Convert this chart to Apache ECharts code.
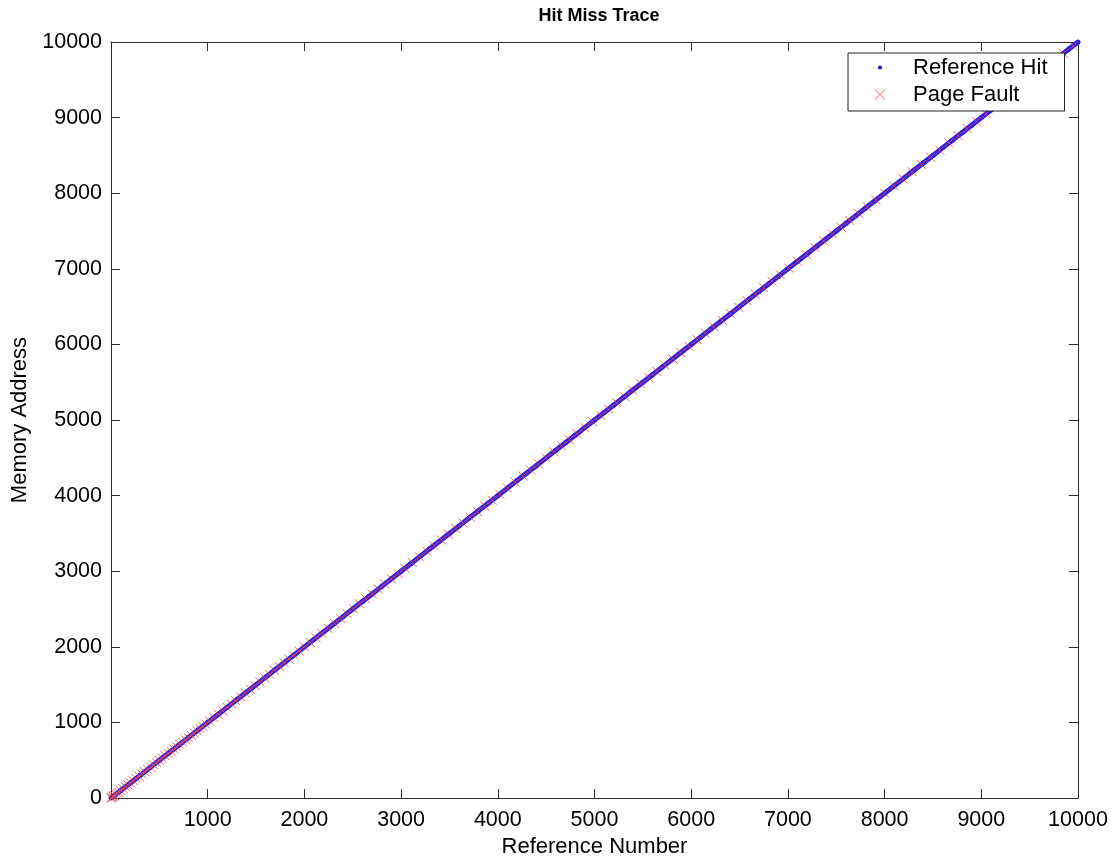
<!DOCTYPE html>
<html>
<head>
<meta charset="utf-8">
<script src="https://cdn.jsdelivr.net/npm/echarts@6/dist/echarts.min.js"></script>
<style>html,body{margin:0;padding:0;background:#fff;}#chart{width:1114px;height:863px;}</style>
</head>
<body>
<div id="chart"></div>
<script>
// ---- data ----
var titleText = 'Hit Miss Trace';
var xName = 'Reference Number';
var yName = 'Memory Address';
var seriesNames = ['Reference Hit', 'Page Fault'];
var xTicks = [0, 1000, 2000, 3000, 4000, 5000, 6000, 7000, 8000, 9000, 10000];
var yTicks = [0, 1000, 2000, 3000, 4000, 5000, 6000, 7000, 8000, 9000, 10000];

// reference hits: [reference number, memory address]
var referenceHits = [
[0,0],[100,100],[200,200],[300,300],[400,400],[500,500],[600,600],[700,700],[800,800],[900,900],
[1000,1000],[1100,1100],[1200,1200],[1300,1300],[1400,1400],[1500,1500],[1600,1600],[1700,1700],[1800,1800],[1900,1900],
[2000,2000],[2100,2100],[2200,2200],[2300,2300],[2400,2400],[2500,2500],[2600,2600],[2700,2700],[2800,2800],[2900,2900],
[3000,3000],[3100,3100],[3200,3200],[3300,3300],[3400,3400],[3500,3500],[3600,3600],[3700,3700],[3800,3800],[3900,3900],
[4000,4000],[4100,4100],[4200,4200],[4300,4300],[4400,4400],[4500,4500],[4600,4600],[4700,4700],[4800,4800],[4900,4900],
[5000,5000],[5100,5100],[5200,5200],[5300,5300],[5400,5400],[5500,5500],[5600,5600],[5700,5700],[5800,5800],[5900,5900],
[6000,6000],[6100,6100],[6200,6200],[6300,6300],[6400,6400],[6500,6500],[6600,6600],[6700,6700],[6800,6800],[6900,6900],
[7000,7000],[7100,7100],[7200,7200],[7300,7300],[7400,7400],[7500,7500],[7600,7600],[7700,7700],[7800,7800],[7900,7900],
[8000,8000],[8100,8100],[8200,8200],[8300,8300],[8400,8400],[8500,8500],[8600,8600],[8700,8700],[8800,8800],[8900,8900],
[9000,9000],[9100,9100],[9200,9200],[9300,9300],[9400,9400],[9500,9500],[9600,9600],[9700,9700],[9800,9800],[9900,9900],
[10000,10000]
];

// page faults: [reference number, memory address]
var pageFaults = [
[0,0],[8,8],[16,16],[25,25],[35,35],[50,50],[65,65],[80,80],[100,100],[125,125],[150,150],[175,175],
[200,200],[230,230],[260,260],[290,290],[320,320],[350,350],[380,380],[410,410],[440,440],[470,470],
[500,500],[530,530],[560,560],[590,590],[620,620],[650,650],[680,680],[710,710],[740,740],[770,770],
[800,800],[830,830],[860,860],[890,890],[920,920],[950,950],[980,980],
[1020,1020],[1065,1065],[1110,1110],[1155,1155],[1200,1200],[1245,1245],[1290,1290],[1340,1340],[1390,1390],[1440,1440],
[1490,1490],[1540,1540],[1590,1590],[1640,1640],[1690,1690],[1740,1740],[1790,1790],[1840,1840],[1890,1890],[1945,1945],[2000,2000],
[2060,2060],[2120,2120],[2180,2180],[2245,2245],[2310,2310],[2375,2375],[2440,2440],[2505,2505],[2570,2570],[2635,2635],
[2700,2700],[2765,2765],[2830,2830],[2900,2900],[2970,2970],
[3040,3040],[3115,3115],[3190,3190],[3265,3265],[3340,3340],[3415,3415],[3490,3490],[3565,3565],[3640,3640],[3715,3715],
[3790,3790],[3865,3865],[3940,3940],
[4020,4020],[4100,4100],[4180,4180],[4260,4260],[4340,4340],[4420,4420],[4500,4500],[4580,4580],[4660,4660],[4740,4740],
[4820,4820],[4900,4900],[4980,4980],
[5063,5063],[5146,5146],[5229,5229],[5312,5312],[5395,5395],[5478,5478],[5561,5561],[5644,5644],[5727,5727],[5810,5810],
[5893,5893],[5976,5976],
[6062,6062],[6148,6148],[6234,6234],[6320,6320],[6406,6406],[6492,6492],[6578,6578],[6664,6664],[6750,6750],[6836,6836],[6922,6922],
[7010,7010],[7100,7100],[7190,7190],[7280,7280],[7370,7370],[7460,7460],[7550,7550],[7640,7640],[7730,7730],[7820,7820],[7910,7910],[8000,8000],
[8095,8095],[8190,8190],[8285,8285],[8380,8380],[8475,8475],[8570,8570],[8665,8665],[8760,8760],[8855,8855],[8950,8950],
[9050,9050],[9150,9150],[9250,9250],[9350,9350],[9450,9450],[9550,9550],[9650,9650],[9750,9750],[9850,9850],[9950,9950]
];

// ---- style ----
var FONT = '"Liberation Sans", Arial, sans-serif';
var AX = '#2b2b2b';
var HIT_COLOR = '#2c1ee4';
var FAULT_COLOR = '#e2484e';

function svgIcon(inner) {
  return 'image://data:image/svg+xml;charset=utf-8,' + encodeURIComponent(
    "<svg xmlns='http://www.w3.org/2000/svg' width='56' height='14' viewBox='0 0 56 14'>" + inner + "</svg>");
}
var dotIcon = svgIcon("<circle cx='28' cy='7' r='2' fill='#0a0acc'/>");
var xIcon = svgIcon("<path d='M23,2L33,12M33,2L23,12' stroke='#e0484a' stroke-width='1' fill='none'/>");

var xMin = xTicks[0], xMax = xTicks[xTicks.length - 1];
var yMin = yTicks[0], yMax = yTicks[yTicks.length - 1];
var xInt = xTicks[1] - xTicks[0], yInt = yTicks[1] - yTicks[0];

function baseAxis(extra) {
  var a = {
    type: 'value',
    axisLine: { show: true, onZero: false, lineStyle: { color: AX, width: 1 } },
    axisTick: { show: true, inside: true, length: 9, lineStyle: { color: AX, width: 1 } },
    splitLine: { show: false },
    axisLabel: { show: false }
  };
  for (var k in extra) a[k] = extra[k];
  return a;
}

var chart = echarts.init(document.getElementById('chart'), null, { renderer: 'canvas' });
chart.setOption({
  animation: false,
  backgroundColor: '#ffffff',
  title: {
    text: titleText, left: 594, top: 2, textAlign: 'center',
    textStyle: { fontFamily: FONT, fontSize: 18, fontWeight: 'bold', color: '#000' }
  },
  grid: { left: 111, right: 36, top: 42, bottom: 59, containLabel: false },
  legend: {
    orient: 'vertical', left: 848, top: 53,
    data: [
      { name: seriesNames[0], icon: dotIcon },
      { name: seriesNames[1], icon: xIcon }
    ],
    itemWidth: 56, itemHeight: 14, itemGap: 0,
    padding: [1, 17, 3, 4],
    backgroundColor: '#fff', borderColor: '#222', borderWidth: 1,
    textStyle: { fontFamily: FONT, fontSize: 22, color: '#000', lineHeight: 27 },
    selectedMode: false
  },
  xAxis: [
    baseAxis({
      position: 'bottom', min: xMin, max: xMax, interval: xInt,
      name: xName, nameLocation: 'middle', nameGap: 36,
      nameTextStyle: { fontFamily: FONT, fontSize: 22, color: '#000' },
      axisLabel: { show: true, margin: 11, fontFamily: FONT, fontSize: 21.5, color: '#000',
        formatter: function (v) { return v === xMin ? '' : String(v); } }
    }),
    baseAxis({ position: 'top', min: xMin, max: xMax, interval: xInt })
  ],
  yAxis: [
    baseAxis({
      position: 'left', min: yMin, max: yMax, interval: yInt,
      name: yName, nameLocation: 'middle', nameGap: 76,
      nameTextStyle: { fontFamily: FONT, fontSize: 22, color: '#000' },
      axisLabel: { show: true, margin: 9, fontFamily: FONT, fontSize: 21.5, color: '#000',
        formatter: function (v) { return String(v); } }
    }),
    baseAxis({ position: 'right', min: yMin, max: yMax, interval: yInt })
  ],
  series: [
    {
      name: seriesNames[0], type: 'line', xAxisIndex: 0, yAxisIndex: 0,
      data: referenceHits, clip: false,
      symbol: 'circle', symbolSize: 5, showSymbol: true,
      itemStyle: { color: HIT_COLOR },
      lineStyle: { color: HIT_COLOR, width: 5 },
      z: 2
    },
    {
      name: seriesNames[1], type: 'scatter', xAxisIndex: 0, yAxisIndex: 0,
      data: pageFaults, clip: false,
      symbol: 'path://M0,0L10,10M10,0L0,10', symbolSize: 9,
      itemStyle: { color: 'rgba(0,0,0,0)', borderColor: FAULT_COLOR, borderWidth: 1, opacity: 0.85 },
      z: 3
    }
  ]
});
</script>
</body>
</html>
